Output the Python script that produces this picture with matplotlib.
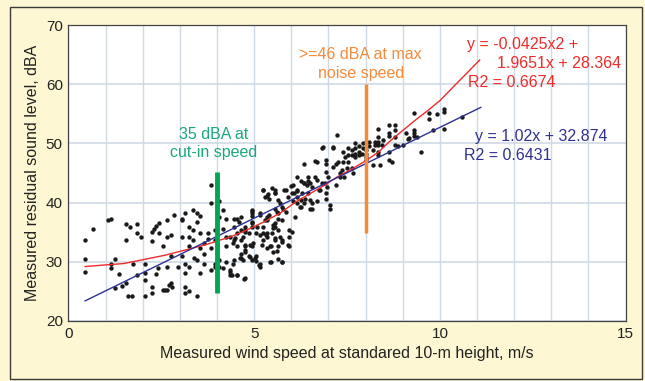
import matplotlib
matplotlib.use('Agg')
import matplotlib.pyplot as plt
from matplotlib.patches import Rectangle

plt.rcParams['font.family'] = ['Liberation Sans', 'DejaVu Sans']

# measured points (wind speed m/s, residual sound level dBA)
wind_speed = [
    0.45, 0.45, 0.45, 0.65, 1.06, 1.15, 1.15, 1.15, 1.25, 1.35, 1.25, 1.45, 1.55, 1.55,
    1.55, 1.65, 1.6, 1.7, 1.75, 1.85, 1.85, 1.95, 1.85, 2.05, 2.05, 2.05, 2.05, 2.25,
    2.25, 2.3, 2.35, 2.25, 2.25, 2.35, 2.4, 2.45, 2.45, 2.55, 2.55, 2.6, 2.65, 2.65,
    2.65, 2.75, 2.65, 2.75, 2.7, 2.75, 2.8, 2.85, 2.95, 3.05, 3.05, 3.05, 3.05, 3.15,
    3.15, 3.15, 3.15, 3.15, 3.25, 3.25, 3.25, 3.25, 3.25, 3.35, 3.35, 3.35, 3.37, 3.45,
    3.45, 3.45, 3.45, 3.55, 3.55, 3.55, 3.55, 3.65, 3.65, 3.65, 3.75, 3.75, 3.85, 3.85,
    3.85, 3.85, 3.95, 3.95, 3.95, 3.95, 4.05, 4.05, 4.05, 4.05, 4.15, 4.15, 4.15, 4.25,
    4.25, 4.25, 4.25, 4.35, 4.35, 4.35, 4.45, 4.45, 4.45, 4.45, 4.55, 4.58, 4.55, 4.55,
    4.55, 4.65, 4.65, 4.65, 4.65, 4.65, 4.75, 4.75, 4.75, 4.75, 4.75, 4.85, 4.85, 4.95,
    4.95, 4.95, 4.95, 4.95, 5.05, 5.05, 5.15, 5.15, 5.15, 5.15, 5.25, 5.25, 5.25, 5.35,
    5.35, 5.35, 5.35, 5.35, 5.45, 5.45, 5.55, 5.55, 5.55, 5.55, 5.55, 5.55, 5.65, 5.65,
    5.65, 5.65, 5.75, 5.75, 5.75, 5.75, 5.85, 5.85, 5.93, 5.95, 5.95, 6.03, 6.05, 6.05,
    6.15, 6.15, 6.15, 6.15, 6.25, 6.25, 6.25, 6.35, 6.35, 6.35, 6.45, 6.45, 6.45, 6.55,
    6.55, 6.55, 6.65, 6.7, 6.65, 6.7, 6.75,
    # around and right of the orange bar
    9.29, 9.29, 9.29, 9.29, 9.38, 9.49, 9.09, 9.02, 9.13, 9.18, 8.80, 8.80, 8.62, 8.62,
    8.62, 8.80, 8.80, 8.88, 8.62, 8.62, 8.70, 8.48, 8.34, 8.34, 8.34, 8.34, 8.44, 8.26,
    8.26, 8.34, 8.34, 8.39, 8.21, 8.21, 8.08, 8.0, 8.0, 8.0, 8.0, 8.0, 7.92, 7.92, 7.90,
    7.81, 7.81, 7.81, 7.72, 7.72, 7.72, 7.72, 7.63, 7.63, 7.54, 7.54, 7.54, 7.40, 7.45,
    7.40, 7.36, 7.27, 7.21, 7.13, 7.22, 7.13, 6.94, 6.94, 6.94, 7.0, 6.91, 6.96, 6.94,
    6.94, 7.03, 7.03, 6.82, 7.21, 7.31, 7.42, 7.51, 7.63, 7.67, 8.08, 6.85, 7.13, 7.30,
    9.72, 9.72, 9.82, 9.92, 10.1, 10.1, 10.1, 10.6,
    # extra points in the dense middle band
    4.94, 4.94, 4.94, 4.94, 5.07, 4.76, 4.71, 4.49, 4.44, 4.76, 4.76, 4.89, 4.98, 4.62,
    4.71, 4.89, 5.03, 5.05, 5.13, 4.44, 4.35, 4.40, 4.53, 4.73, 5.43, 5.64, 5.74, 5.50,
    5.61, 5.43, 5.34, 5.21, 5.25, 5.32, 5.48, 5.56, 5.70, 5.74, 5.92, 6.01, 5.52, 5.52,
    5.65, 5.29, 5.16, 5.39, 5.61, 5.79, 6.10, 6.24, 6.51, 6.51, 6.69, 6.77, 6.37, 6.28,
    6.51, 6.42, 6.33, 6.82, 5.23, 5.28, 5.37, 5.49, 5.55, 5.41, 5.70, 5.81, 5.92, 5.99,
    6.06, 6.16,
]
sound_level = [
    33.7, 30.5, 28.2, 35.5, 37.1, 37.3, 29.7, 29.0, 30.5, 27.9, 25.5, 25.9, 26.5, 33.7,
    36.4, 35.9, 24.3, 24.3, 29.7, 36.4, 34.9, 34.2, 27.7, 28.1, 29.7, 26.9, 24.3, 33.5,
    35.0, 35.6, 36.0, 25.8, 24.7, 27.9, 28.9, 36.6, 34.8, 32.6, 25.2, 25.2, 25.2, 37.0,
    34.2, 34.5, 29.1, 31.0, 26.1, 26.5, 25.8, 37.9, 29.2, 37.1, 37.3, 34.2, 30.9, 38.2,
    29.7, 28.1, 25.8, 24.7, 35.9, 34.2, 32.6, 29.2, 25.0, 38.8, 35.4, 33.7, 30.6, 30.3,
    24.3, 38.2, 36.7, 37.7, 34.8, 32.3, 28.1, 33.1, 31.4, 29.7, 34.8, 33.8, 43.0, 39.9,
    32.3, 28.6, 29.2, 29.6, 35.4, 33.7, 40.2, 37.6, 30.3, 29.2, 38.8, 35.6, 28.9, 37.3,
    34.2, 32.6, 30.0, 34.2, 28.3, 27.8, 37.3, 35.9, 33.7, 30.3, 37.3, 36.8, 34.8, 32.6,
    27.8, 37.6, 35.4, 33.7, 31.4, 30.6, 35.9, 35.1, 32.6, 32.0, 27.2, 34.8, 30.9, 38.8,
    38.2, 36.7, 32.6, 30.3, 34.8, 30.9, 38.2, 34.5, 29.7, 29.2, 42.2, 35.9, 33.7, 41.1,
    37.6, 37.1, 34.8, 34.2, 32.6, 30.0, 42.2, 41.6, 39.0, 36.5, 35.9, 33.7, 40.4, 38.2,
    35.4, 32.6, 39.3, 37.1, 33.7, 30.0, 42.2, 38.5, 32.6, 34.2, 35.4, 41.6, 43.0, 40.2,
    44.4, 41.9, 41.0, 39.9, 43.6, 40.4, 39.3, 46.6, 43.3, 39.9, 44.4, 43.6, 41.6, 42.7,
    39.9, 39.0, 47.1, 46.9, 44.4, 43.8, 42.1,
    55.2, 52.3, 51.7, 51.3, 51.1, 48.6, 51.7, 49.7, 50.7, 50.9, 53.1, 52.3, 53.1, 51.7,
    51.3, 51.1, 49.7, 49.5, 48.6, 47.2, 46.9, 50.6, 52.5, 51.1, 50.3, 49.7, 49.7, 50.3,
    49.7, 48.6, 48.0, 46.4, 46.4, 48.9, 50.3, 50.3, 48.9, 48.3, 47.8, 47.2, 50.0, 49.2,
    48.3, 49.5, 48.6, 48.0, 50.0, 49.2, 48.3, 47.8, 48.9, 48.0, 49.2, 48.0, 46.9, 48.6,
    47.8, 46.9, 45.5, 46.9, 46.6, 46.1, 51.4, 49.2, 47.2, 46.6, 45.2, 44.4, 43.3, 42.6,
    41.6, 40.7, 39.6, 39.0, 49.2, 43.0, 44.4, 44.4, 45.8, 45.8, 45.0, 49.5, 49.4, 49.4,
    45.0, 55.1, 54.2, 52.3, 54.9, 55.9, 55.4, 52.5, 54.5,
    38.6, 37.7, 36.5, 35.9, 35.9, 35.4, 34.2, 34.1, 33.1, 32.8, 31.7, 32.8, 33.1, 30.6,
    30.3, 30.8, 30.6, 30.2, 29.5, 29.7, 28.6, 27.8, 27.8, 27.1, 30.0, 30.5, 30.0, 31.7,
    31.9, 32.6, 32.3, 32.8, 34.8, 34.5, 34.8, 34.0, 34.2, 33.4, 32.8, 35.1, 36.2, 35.7,
    37.3, 37.1, 37.9, 37.9, 38.5, 39.0, 37.6, 39.3, 40.4, 39.0, 40.3, 42.1, 40.7, 41.6,
    43.3, 43.0, 43.3, 43.3, 42.1, 40.9, 41.5, 42.4, 41.7, 40.7, 39.9, 42.1, 41.0, 42.8,
    41.6, 42.1,
]

# polynomial trend (red)
poly_x = [0.45, 1.04, 1.48, 2.04, 2.59, 3.15, 3.70, 4.04, 4.36, 4.81, 5.25, 5.69, 6.14,
          6.58, 6.91, 7.25, 7.58, 8.01, 8.36, 8.69, 9.02, 9.35, 9.68, 10.01, 10.35,
          10.68, 11.07]
poly_y = [29.2, 29.5, 29.7, 30.4, 31.1, 32.0, 32.9, 33.6, 34.2, 35.4, 36.7, 38.2, 40.2,
          41.8, 43.0, 44.4, 45.5, 47.1, 48.6, 50.6, 52.3, 54.0, 55.6, 57.3, 59.5,
          61.6, 64.1]
# linear trend (blue) end points
lin_x = [0.45, 11.1]
lin_y = [23.4, 56.1]

cutin_speed, cutin_range = 4.0, [24.8, 45.2]
maxnoise_speed, maxnoise_range = 8.0, [34.8, 60.0]

fig = plt.figure(figsize=(6.45, 3.81), dpi=100, facecolor='#fdf8d3')
fig.patches.append(Rectangle((10 / 645, 2 / 381), 632 / 645, 372 / 381, transform=fig.transFigure,
                             fill=False, edgecolor='#3a3a3a', linewidth=1.0))
ax = fig.add_axes([0.106, 0.1575, 0.864, 0.7765])

ax.set_xlim(0, 15)
ax.set_ylim(20, 70)
ax.set_xticks([0, 5, 10, 15])
ax.set_xticks(range(0, 16), minor=True)
ax.set_yticks(range(20, 71, 10))
ax.grid(True, which='both', axis='x', color='#cfd9e4', linewidth=1.0)
ax.grid(True, which='major', axis='y', color='#cfd9e4', linewidth=1.2)
ax.set_axisbelow(True)
ax.tick_params(which='both', length=0, labelsize=11, colors='#222222', pad=4)
for s in ax.spines.values():
    s.set_color('#444444')
    s.set_linewidth(0.9)

ax.scatter(wind_speed, sound_level, s=10, color='#1a1a1a', zorder=3, linewidths=0)
ax.plot(poly_x, poly_y, color='#ee2a2a', linewidth=1.0, zorder=4)
ax.plot(lin_x, lin_y, color='#2e3192', linewidth=1.0, zorder=4)

ax.plot([cutin_speed, cutin_speed], cutin_range, color='#00a651', linewidth=3.5,
        solid_capstyle='butt', zorder=5)
ax.plot([maxnoise_speed, maxnoise_speed], maxnoise_range, color='#f58a3a', linewidth=2.5,
        solid_capstyle='butt', zorder=5)

ax.text(3.92, 50.0, '35 dBA at\ncut-in speed', color='#19a97d', fontsize=11.5,
        ha='center', va='center', linespacing=1.3)
ax.text(7.87, 63.4, '>=46 dBA at max\nnoise speed', color='#f58a3a', fontsize=11.5,
        ha='center', va='center', linespacing=1.3)
ax.text(10.73, 66.7, 'y = -0.0425x2 +', color='#ee2a2a', fontsize=11.5, va='center')
ax.text(11.55, 63.5, '1.9651x + 28.364', color='#ee2a2a', fontsize=11.5, va='center')
ax.text(10.75, 60.3, 'R2 = 0.6674', color='#ee2a2a', fontsize=11.5, va='center')
ax.text(10.95, 51.1, 'y = 1.02x + 32.874', color='#2e3192', fontsize=11.5, va='center')
ax.text(10.65, 48.0, 'R2 = 0.6431', color='#2e3192', fontsize=11.5, va='center')

ax.set_xlabel('Measured wind speed at standared 10-m height, m/s', fontsize=11.5,
              color='#222222', labelpad=4)
ax.set_ylabel('Measured residual sound level, dBA', fontsize=11.5, color='#222222',
              labelpad=4)

fig.savefig('out.png', dpi=100, facecolor=fig.get_facecolor())
